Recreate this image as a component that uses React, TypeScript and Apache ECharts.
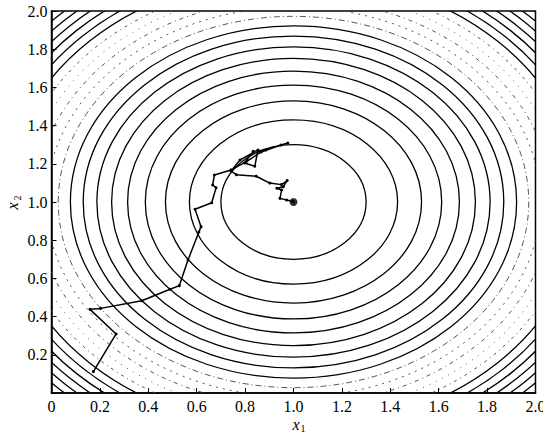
import React, { useEffect, useRef } from "react";
import * as echarts from "echarts";

// Contour levels of f = (x1-1)^2 + (x2-1)^2, centred at the optimum
const centre = [1, 1];
const levels = [0.09, 0.185, 0.28, 0.375, 0.47, 0.565, 0.66, 0.755, 0.85, 0.945, 1.04, 1.135, 1.23, 1.325, 1.42, 1.515, 1.61, 1.705, 1.8, 1.895, 1.99];
const faintLevels = [0.945, 1.04, 1.135, 1.23, 1.325];

// Search trajectory
const pathX = [0.173, 0.267, 0.159, 0.203, 0.373, 0.49, 0.528, 0.564, 0.609, 0.618, 0.593, 0.662, 0.68, 0.666, 0.673, 0.742, 0.804, 0.866, 0.948, 0.977, 0.886, 0.833, 0.798, 0.84, 0.853, 0.779, 0.742, 0.764, 0.846, 0.902, 0.95, 0.974, 0.958, 0.931, 0.951, 0.944, 0.972, 0.999, 1.0];
const pathY = [0.112, 0.309, 0.438, 0.443, 0.483, 0.543, 0.562, 0.696, 0.843, 0.871, 0.962, 0.996, 1.075, 1.089, 1.141, 1.168, 1.21, 1.262, 1.298, 1.309, 1.272, 1.265, 1.204, 1.187, 1.272, 1.22, 1.162, 1.143, 1.135, 1.099, 1.091, 1.112, 1.08, 1.072, 1.063, 1.019, 1.01, 1.002, 1.0];
const finalPoint = [1.0, 1.0];

const xTicks = [0, 0.2, 0.4, 0.6, 0.8, 1.0, 1.2, 1.4, 1.6, 1.8, 2.0];
const axisSymbol = "x";
const xSub = "1";
const ySub = "2";

const FONT = "'Liberation Serif', 'Times New Roman', 'DejaVu Serif', serif";

export default function App() {
  const ref = useRef<HTMLDivElement>(null);
  useEffect(() => {
    if (!ref.current) return;
    const chart = echarts.init(ref.current, null, { renderer: "svg" });
    const faintDash: Record<number, number[]> = {
      0.945: [6, 3, 1, 3],
      1.04: [2, 5],
      1.135: [4, 4, 1, 4],
      1.23: [1, 6],
      1.325: [3, 4, 1, 4],
    };
    const axisCommon = {
      type: "value",
      min: xTicks[0],
      max: xTicks[xTicks.length - 1],
      interval: 0.2,
      splitLine: { show: false },
      axisLine: { show: true, lineStyle: { color: "#000", width: 1.5 } },
      axisTick: { show: true, inside: true, length: 5, lineStyle: { color: "#000", width: 1 } },
    };
    const mainStyle = { fontFamily: FONT, fontStyle: "italic", fontSize: 16, fill: "#000", align: "center", verticalAlign: "middle" };
    const subStyle = { fontFamily: FONT, fontSize: 10, fill: "#000", align: "center", verticalAlign: "middle" };
    chart.setOption({
      animation: false,
      backgroundColor: "#fff",
      textStyle: { fontFamily: FONT },
      grid: {
        left: 51.5, right: 7.5, top: 11, bottom: 41,
        outerBoundsMode: "none", containLabel: false,
        show: true, borderColor: "#000", borderWidth: 1.5,
      },
      graphic: [
        { type: "text", x: 296, y: 424, style: { ...mainStyle, text: axisSymbol } },
        { type: "text", x: 303, y: 428.5, style: { ...subStyle, text: xSub } },
        { type: "text", x: 12, y: 206, rotation: Math.PI / 2, style: { ...mainStyle, text: axisSymbol } },
        { type: "text", x: 17, y: 198, rotation: Math.PI / 2, style: { ...subStyle, text: ySub } },
      ],
      xAxis: {
        ...axisCommon,
        axisLabel: {
          fontFamily: FONT, fontSize: 16, color: "#000", margin: 5,
          formatter: (v: number) => (v === 0 ? "0" : v.toFixed(1)),
        },
      },
      yAxis: {
        ...axisCommon,
        axisLabel: {
          fontFamily: FONT, fontSize: 16, color: "#000", margin: 4,
          formatter: (v: number) => (v === 0 ? "" : v.toFixed(1)),
        },
      },
      series: [
        {
          type: "custom",
          clip: true,
          silent: true,
          encode: { x: 0, y: 1 },
          data: levels.map((l) => [centre[0], centre[1], l]),
          renderItem: (params: any, api: any) => {
            const lvl = api.value(2);
            const r = Math.sqrt(lvl);
            const c = api.coord([api.value(0), api.value(1)]);
            const s = api.size([r, r]);
            const faint = faintLevels.indexOf(lvl) >= 0;
            return {
              type: "ellipse",
              shape: { cx: c[0], cy: c[1], rx: s[0], ry: s[1] },
              style: {
                fill: "none",
                stroke: faint ? "#444" : "#000",
                lineWidth: faint ? 0.9 : 1.3,
                lineDash: faint ? faintDash[lvl] : null,
              },
            };
          },
        },
        {
          type: "line",
          data: pathX.map((x, i) => [x, pathY[i]]),
          symbol: "circle",
          symbolSize: 3,
          itemStyle: { color: "#000" },
          lineStyle: { color: "#000", width: 1.5 },
          z: 5,
        },
        {
          type: "scatter",
          data: [finalPoint],
          symbolSize: 8,
          itemStyle: { color: "#000" },
          z: 6,
        },
      ],
    });
    return () => chart.dispose();
  }, []);
  return <div ref={ref} style={{ position: "fixed", left: 0, top: 0, width: 543, height: 434 }} />;
}
